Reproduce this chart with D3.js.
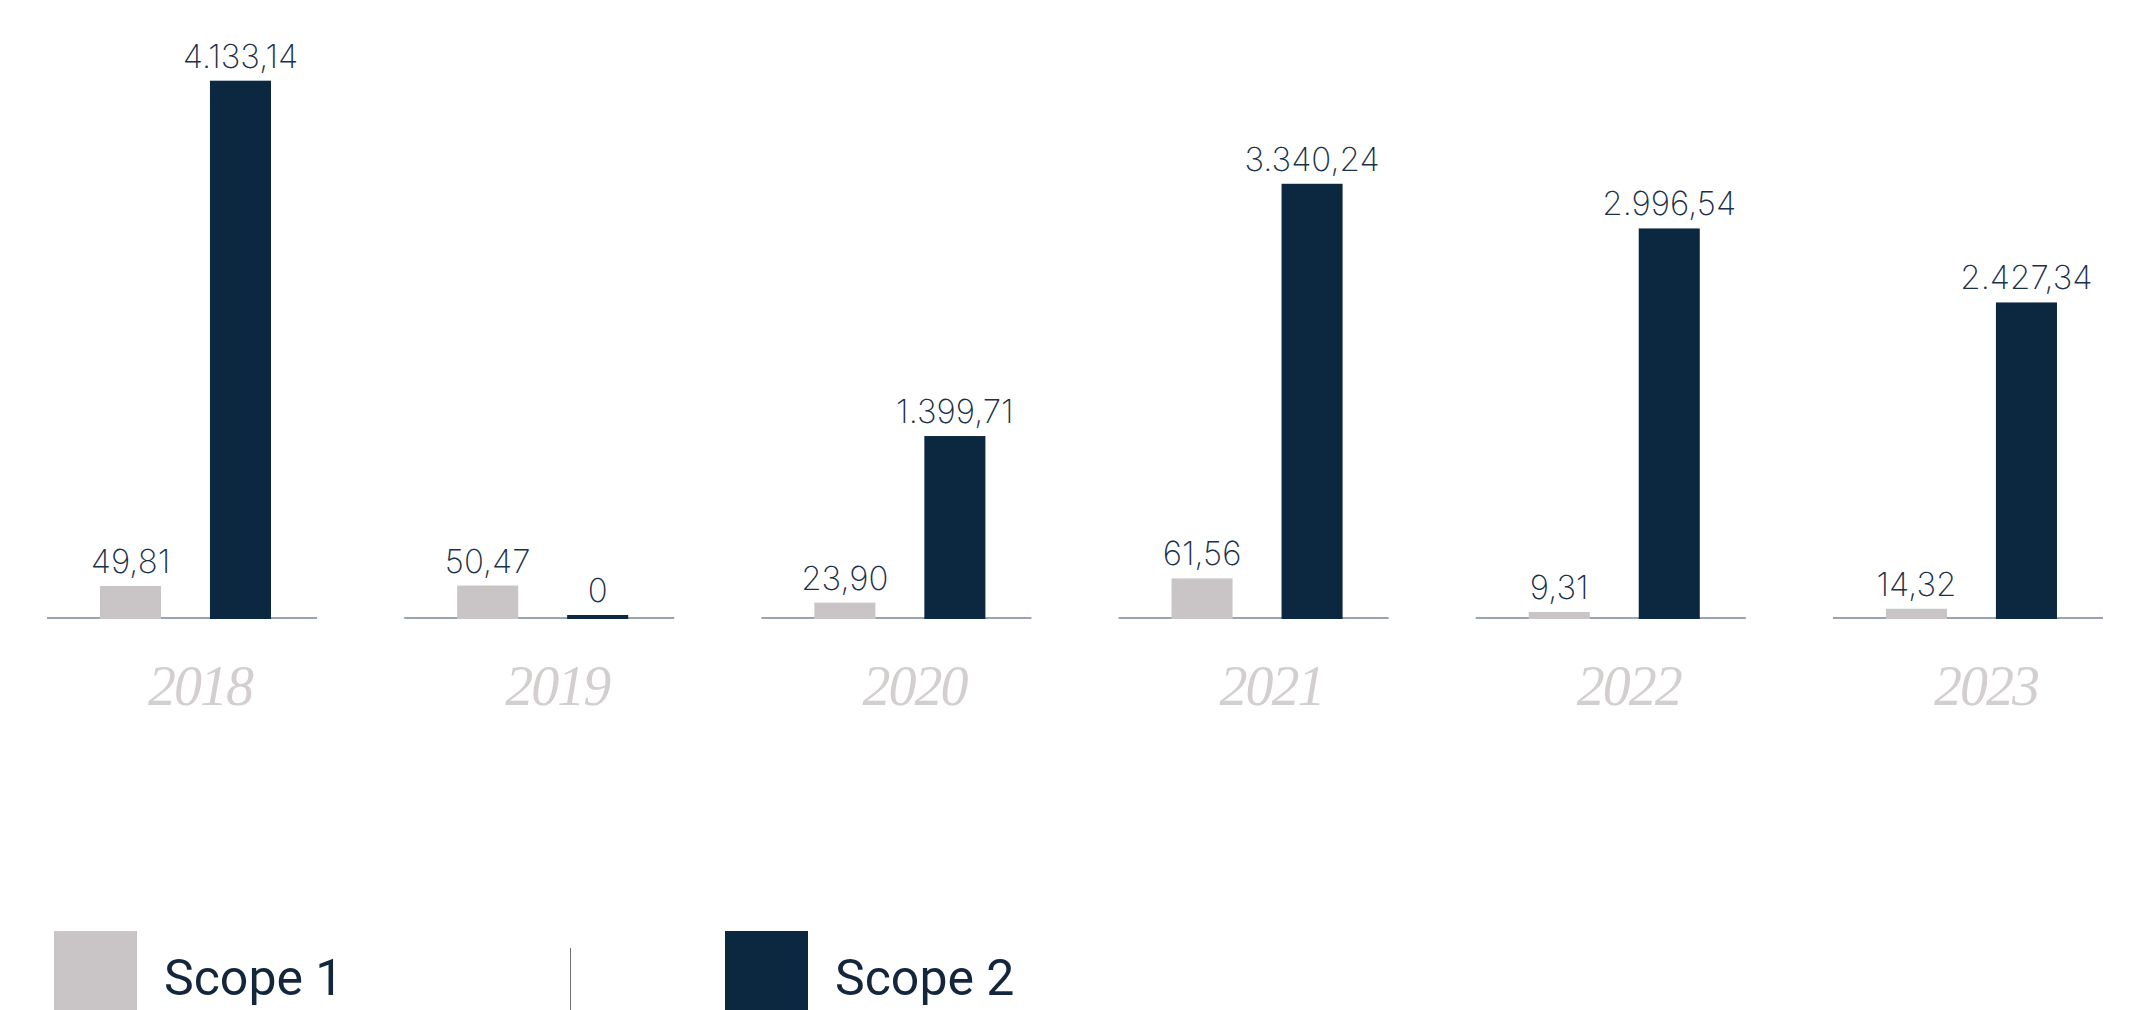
<!DOCTYPE html>
<html>
<head>
<meta charset="utf-8">
<script src="https://cdn.jsdelivr.net/npm/d3@7"></script>
<style>
  html, body { margin: 0; padding: 0; background: #ffffff; }
  svg { display: block; }
</style>
</head>
<body>
<svg id="chart" width="2132" height="1010"></svg>
<script>
// Emissions per year, Scope 1 and Scope 2
const years = ["2018", "2019", "2020", "2021", "2022", "2023"];
const seriesNames = ["Scope 1", "Scope 2"];
const scope1 = [49.81, 50.47, 23.90, 61.56, 9.31, 14.32];
const scope2 = [4133.14, 0, 1399.71, 3340.24, 2996.54, 2427.34];

const colors = { "Scope 1": "#c9c5c6", "Scope 2": "#0c2740" };
const labelColor = "#1b3049";
const yearColor = "#d3cfcf";
const axisColor = "#9aa4b0";

const W = 2132, H = 1010;
const baseY = 618;

const svg = d3.select("#chart");

// Number format with "." thousands and "," decimals
const locale = d3.formatLocale({ decimal: ",", thousands: ".", grouping: [3], currency: ["", ""] });
const fmt = locale.format(",.2f");
const label = v => v === 0 ? "0" : fmt(v);

// Group and bar positions
const x0 = d3.scaleBand().domain(years).range([47, 2103]).paddingInner(0.244).paddingOuter(0);
const x1 = d3.scaleBand().domain(seriesNames).range([0, x0.bandwidth()])
  .paddingInner(0.445).paddingOuter(0.45).align(0.535);

// Each series has its own vertical scale
const yScales = {
  "Scope 1": d3.scaleLinear().domain([0, 70]).range([baseY, baseY - 45]),
  "Scope 2": d3.scaleLinear().domain([0, 4300]).range([baseY, baseY - 559])
};

const rows = years.map((year, i) => ({
  year,
  values: [
    { key: "Scope 1", value: scope1[i] },
    { key: "Scope 2", value: scope2[i] }
  ]
}));

const groups = svg.selectAll("g.year")
  .data(rows)
  .join("g")
  .attr("class", "year")
  .attr("transform", d => `translate(${x0(d.year)},0)`);

// Baseline under each pair of bars
groups.append("line")
  .attr("x1", 0)
  .attr("x2", x0.bandwidth())
  .attr("y1", baseY)
  .attr("y2", baseY)
  .attr("stroke", axisColor)
  .attr("stroke-width", 2);

const barTop = d => {
  const y = yScales[d.key](d.value);
  return Math.min(y, baseY - 3); // zero values still show a thin stub
};

groups.selectAll("rect")
  .data(d => d.values)
  .join("rect")
  .attr("x", d => x1(d.key))
  .attr("width", x1.bandwidth())
  .attr("y", d => barTop(d))
  .attr("height", d => baseY + 1 - barTop(d))
  .attr("fill", d => colors[d.key]);

// Value labels above bars
groups.selectAll("text.value")
  .data(d => d.values)
  .join("text")
  .attr("class", "value")
  .attr("x", d => x1(d.key) + x1.bandwidth() / 2)
  .attr("y", d => barTop(d) - 13)
  .attr("text-anchor", "middle")
  .attr("font-family", "Inter, 'Noto Sans', sans-serif")
  .attr("font-weight", 250)
  .attr("font-size", 33)
  .attr("fill", labelColor)
  .text(d => label(d.value));

// Year labels
groups.append("text")
  .attr("x", x0.bandwidth() / 2 + 18)
  .attr("y", 705)
  .attr("text-anchor", "middle")
  .attr("font-family", "'Liberation Serif', 'DejaVu Serif', serif")
  .attr("font-style", "italic")
  .attr("font-size", 56)
  .attr("letter-spacing", -2)
  .attr("fill", yearColor)
  .text(d => d.year);

// Legend
const legendX = d3.scalePoint().domain(seriesNames).range([54, 725]);
const legend = svg.selectAll("g.legend")
  .data(seriesNames)
  .join("g")
  .attr("class", "legend")
  .attr("transform", d => `translate(${legendX(d)},931)`);

legend.append("rect")
  .attr("width", 83)
  .attr("height", 83)
  .attr("fill", d => colors[d]);

legend.append("text")
  .attr("x", 110)
  .attr("y", 64)
  .attr("font-family", "Roboto, 'Noto Sans', sans-serif")
  .attr("font-size", 50)
  .attr("fill", "#13263b")
  .text(d => d);

svg.append("line")
  .attr("x1", 570.5).attr("x2", 570.5)
  .attr("y1", 948).attr("y2", H)
  .attr("stroke", "#6f6f6f")
  .attr("stroke-width", 1);
</script>
</body>
</html>
